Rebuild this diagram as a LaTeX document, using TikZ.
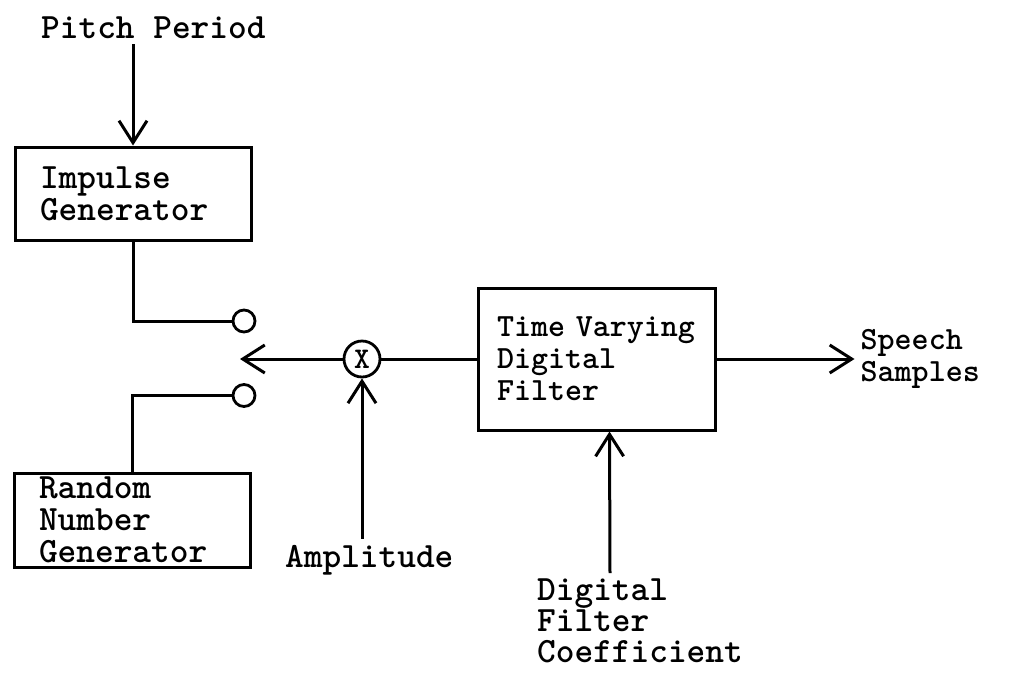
\documentclass[tikz,border=0pt]{standalone}
\usepackage{tikz}
\usetikzlibrary{positioning, arrows.meta}

\begin{document}
\begin{tikzpicture}[
    x=1pt, y=-1pt,
    >={Straight Barb[length=22pt, width=28pt]},
    font={\ttfamily\bfseries\fontsize{35.6}{32}\selectfont},
    blk/.style={draw, line width=3pt, align=left, inner xsep=25pt, text width=186pt},
    pin/.style={draw, circle, line width=2.8pt, minimum size=22pt, inner sep=0pt},
    lbl/.style={inner sep=6pt, align=left},
    wire/.style={line width=3pt},
    arrow/.style={->, wire}
]
    \useasboundingbox (0,0) rectangle (1032,672);

    \node[lbl, anchor=base west] (pitch) at (35,38) {Pitch Period};
    \node[blk, minimum height=93pt] (imp) at (133,193.5) {Impulse\\Generator};
    \node[blk, minimum height=94pt] (rng) at (132,520) {Random\\Number\\Generator};
    \node[pin] (sw1) at (244,321) {};
    \node[pin] (sw2) at (244,395.5) {};
    \coordinate (pole) at (240,359);
    \node[draw, circle, line width=2.8pt, minimum size=36pt, inner sep=0pt,
          font={\ttfamily\bfseries\fontsize{30}{30}\selectfont}] (mix) at (362,359) {X};
    \node[lbl, anchor=base west] (amp) at (279,567) {Amplitude};
    \node[blk, inner xsep=19pt, text width=199pt, minimum height=142pt,
          font={\ttfamily\bfseries\fontsize{32.4}{32}\selectfont}] (filt) at (596.5,359)
          {Time Varying\\Digital\\Filter};
    \node[lbl, right=138pt of filt, anchor=west,
          font={\ttfamily\bfseries\fontsize{32.4}{32}\selectfont}] (speech) {Speech\\Samples};
    \node[lbl, anchor=north west, font={\ttfamily\bfseries\fontsize{35.6}{31}\selectfont}]
          (coef) at (531,573) {Digital\\Filter\\Coefficient};

    \draw[arrow] (pitch.south -| imp.north) -- (imp.north);
    \draw[wire] (imp.south) |- (sw1.west);
    \draw[wire] (rng.north) |- (sw2.west);
    \draw[arrow] (mix.west) -- (pole);
    \draw[arrow] (amp.north -| mix.south) -- (mix.south);
    \draw[wire] (mix.east) -- (filt.west);
    \draw[arrow] (filt.east) -- (speech.west);
    \draw[arrow] ([xshift=-30pt]coef.north) -- ([xshift=13pt]filt.south);
\end{tikzpicture}
\end{document}
